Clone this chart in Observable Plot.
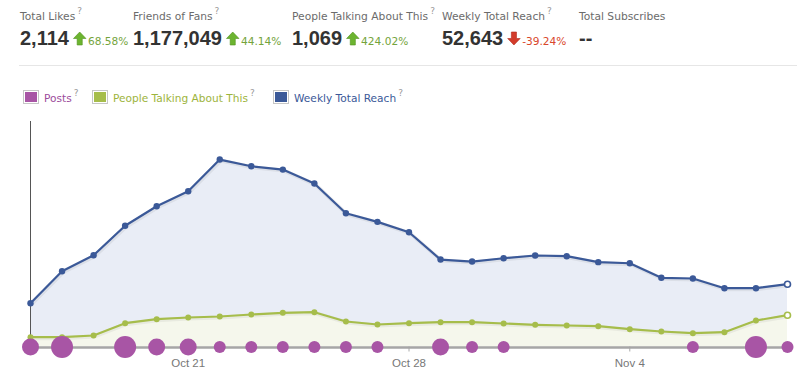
<!DOCTYPE html>
<html><head><meta charset="utf-8">
<script src="https://cdn.jsdelivr.net/npm/d3@7"></script>
<script src="https://cdn.jsdelivr.net/npm/@observablehq/plot@0.6"></script>
<style>
body{margin:0;background:#fff;width:805px;height:381px;overflow:hidden;position:relative;}
#header{position:absolute;left:0;top:0;}
#chart{position:absolute;left:0;top:110px;}
</style></head><body>
<svg id="header" width="805" height="110"></svg>
<div id="chart"></div>
<script>
// ---- data ----
const dates = ["2012-10-16","2012-10-17","2012-10-18","2012-10-19","2012-10-20","2012-10-21","2012-10-22","2012-10-23","2012-10-24","2012-10-25","2012-10-26","2012-10-27","2012-10-28","2012-10-29","2012-10-30","2012-10-31","2012-11-01","2012-11-02","2012-11-03","2012-11-04","2012-11-05","2012-11-06","2012-11-07","2012-11-08","2012-11-09"];
const weeklyReach = [36700,63500,76900,101600,118000,130600,157100,151500,148700,137000,112100,104900,96200,73300,71600,74400,76700,76100,71100,70200,58000,57400,49300,49300,52643];
const peopleTalking = [329,329,387,800,934,991,1025,1092,1149,1169,857,756,800,833,833,790,746,722,699,598,521,464,497,890,1069];
const posts = [2,3,0,3,2,2,1,1,1,1,1,1,0,2,1,1,0,0,0,0,0,1,0,3,1];
const tickLabels = ["2012-10-21","2012-10-28","2012-11-04"];
const reachAxisMax = 189000;
const talkAxisMax = 7580;

const statLabels = ["Total Likes","Friends of Fans","People Talking About This","Weekly Total Reach","Total Subscribes"];
const statValues = ["2,114","1,177,049","1,069","52,643","--"];
const statChanges = ["68.58%","44.14%","424.02%","-39.24%",""];
const statHelp = [true,true,true,true,false];

const legendLabels = ["Posts","People Talking About This","Weekly Total Reach"];

// ---- styles / layout ----
const C = {purple:"#a855a5", green:"#a6bd4b", blue:"#3b5998"};
const legendColors = [C.purple, C.green, C.blue];
const legendTextColors = ["#9c4c9c","#9db43c","#3b5998"];
const statX = [20,133,292,442,579];
const legendX = [23,92,273];
const labelFont = "'DejaVu Sans', sans-serif";

// ---- header ----
const hdr = d3.select("#header");
statLabels.forEach((lab,i)=>{
  const x = statX[i];
  const t = hdr.append("text").attr("x",x).attr("y",19.5)
    .attr("font-family",labelFont).attr("font-size",10.7).attr("fill","#6b6b6b").text(lab);
  if (statHelp[i]) {
    const w = t.node().getComputedTextLength();
    hdr.append("text").attr("x",x+w+2).attr("y",14).attr("font-family",labelFont)
      .attr("font-size",9).attr("fill","#999").text("?");
  }
  const v = hdr.append("text").attr("x",x).attr("y",44.5)
    .attr("font-family","'Liberation Sans', Arial, sans-serif").attr("font-weight","bold")
    .attr("font-size",20).attr("fill","#333").text(statValues[i]);
  const ch = statChanges[i];
  if (ch) {
    const vw = v.node().getComputedTextLength();
    const ax = x + vw + 4.5;
    const down = ch.startsWith("-");
    const path = down
      ? "M6.25,13 L12.5,6.5 L8.8,6.5 L8.8,0 L3.7,0 L3.7,6.5 L0,6.5 Z"
      : "M6.25,0 L12.5,6.5 L8.8,6.5 L8.8,13 L3.7,13 L3.7,6.5 L0,6.5 Z";
    hdr.append("path").attr("d",path).attr("transform",`translate(${ax},32)`)
      .attr("fill", down ? "#d33b2b" : "#6cb430")
      .attr("stroke", down ? "#b02a1d" : "#52921f").attr("stroke-width",0.6);
    hdr.append("text").attr("x",ax+14.5).attr("y",44.5).attr("font-family",labelFont)
      .attr("font-size",10.6).attr("fill", down ? "#d9472b" : "#74a43b").text(ch);
  }
});
hdr.append("line").attr("x1",19).attr("x2",797).attr("y1",65.5).attr("y2",65.5)
  .attr("stroke","#e6e6e6").attr("stroke-width",1);

// ---- legend ----
legendLabels.forEach((lab,i)=>{
  const x = legendX[i];
  hdr.append("rect").attr("x",x+0.5).attr("y",90.5).attr("width",15).attr("height",13)
    .attr("fill","#fff").attr("stroke","#c6c6c6");
  hdr.append("rect").attr("x",x+2).attr("y",92).attr("width",12).attr("height",10)
    .attr("fill",legendColors[i]);
  const t = hdr.append("text").attr("x",x+21).attr("y",101.5).attr("font-family",labelFont)
    .attr("font-size",10.6).attr("fill",legendTextColors[i]).text(lab);
  const w = t.node().getComputedTextLength();
  hdr.append("text").attr("x",x+21+w+2).attr("y",96).attr("font-family",labelFont)
    .attr("font-size",9).attr("fill","#999").text("?");
});

// ---- chart ----
const data = dates.map((d,i)=>({date:new Date(d), reach:weeklyReach[i], talk:peopleTalking[i], posts:posts[i]}));
const talkY = d => d.talk * reachAxisMax / talkAxisMax;
const first = data[0], last = data[data.length-1];
const ticks = tickLabels.map(d=>new Date(d));

const chart = Plot.plot({
  width:805, height:271,
  marginTop:11, marginBottom:34.5, marginLeft:30, marginRight:18,
  x:{type:"utc", domain:[first.date,last.date]},
  y:{domain:[0,reachAxisMax], axis:null},
  r:{type:"linear", domain:[1,3], range:[6,11]},
  style:{fontFamily:"'Liberation Sans Narrow','Arial Narrow','Liberation Sans',sans-serif", fontSize:"11.5px", background:"transparent", overflow:"visible"},
  marks:[
    Plot.areaY(data,{x:"date", y:"reach", fill:"#e9edf6"}),
    Plot.areaY(data,{x:"date", y:talkY, fill:"#f5f7ec"}),
    Plot.ruleX([first.date],{stroke:"#555", strokeWidth:1}),
    Plot.axisX({ticks, tickFormat:d3.utcFormat("%b %-d"), tickSize:5, tickPadding:7, stroke:"#aaa", fill:"#777"}),
    Plot.ruleY([0],{stroke:"#a6a6a6", strokeWidth:2.4, dy:0.5}),
    Plot.line(data,{x:"date", y:"reach", stroke:"#000", strokeOpacity:0.06, strokeWidth:4, dx:1, dy:1}),
    Plot.line(data,{x:"date", y:talkY, stroke:"#000", strokeOpacity:0.05, strokeWidth:4, dx:1, dy:1}),
    Plot.line(data,{x:"date", y:"reach", stroke:C.blue, strokeWidth:2.2}),
    Plot.line(data,{x:"date", y:talkY, stroke:C.green, strokeWidth:2.2}),
    Plot.dot(data.slice(0,-1),{x:"date", y:"reach", r:3.2, fill:C.blue}),
    Plot.dot([last],{x:"date", y:"reach", r:3, fill:"#fff", stroke:C.blue, strokeWidth:1.6}),
    Plot.dot(data.slice(0,-1),{x:"date", y:talkY, r:3, fill:C.green}),
    Plot.dot([last],{x:"date", y:talkY, r:3, fill:"#fff", stroke:C.green, strokeWidth:1.6}),
    Plot.dot(data.filter(d=>d.posts>0),{x:"date", y:0, r:"posts", fill:C.purple})
  ]
});
document.getElementById("chart").appendChild(chart);
</script>
</body></html>
